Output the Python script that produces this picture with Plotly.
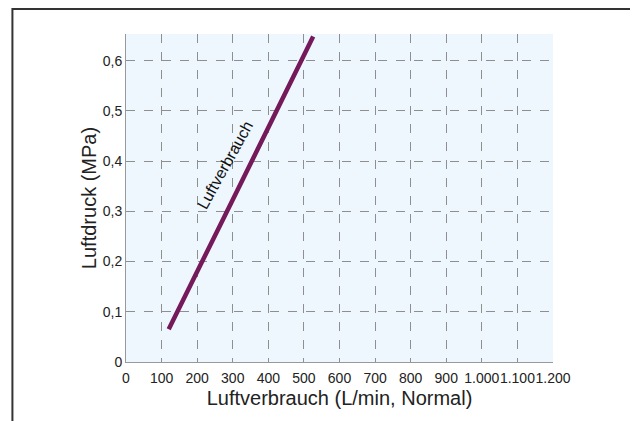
import plotly.graph_objects as go

# Luftverbrauch-Kennlinie
luftverbrauch = [120, 145, 214, 284, 353, 423, 493, 526]
luftdruck = [0.065, 0.1, 0.2, 0.3, 0.4, 0.5, 0.6, 0.648]

x_ticks = [0, 100, 200, 300, 400, 500, 600, 700, 800, 900, 1000, 1100, 1200]
x_ticktext = ["0", "100", "200", "300", "400", "500", "600", "700", "800", "900",
              "1.000", "1.100", "1.200"]
y_ticks = [0, 0.1, 0.2, 0.3, 0.4, 0.5, 0.6]
y_ticktext = ["0", "0,1", "0,2", "0,3", "0,4", "0,5", "0,6"]

fig = go.Figure()

fig.add_trace(go.Scatter(
    x=luftverbrauch,
    y=luftdruck,
    mode="lines",
    line=dict(color="#74195A", width=4.5),
    showlegend=False,
    hoverinfo="skip",
))

# Beschriftung entlang der Linie
fig.add_annotation(
    x=277, y=0.392,
    text="Luftverbrauch",
    showarrow=False,
    textangle=-61,
    font=dict(size=16, color="#111111"),
)

# Rahmen um die ganze Grafik
fig.add_shape(
    type="rect", xref="paper", yref="paper",
    x0=-0.266, x1=1.187, y0=-0.3, y1=1.076,
    line=dict(color="#333333", width=2),
    fillcolor="rgba(0,0,0,0)",
    layer="below",
)

# Seite hat 8px Rand -> Figur entsprechend kleiner
fig.update_layout(
    width=630, height=413,
    margin=dict(l=118, r=85, t=26, b=59),
    paper_bgcolor="white",
    plot_bgcolor="#EEF6FE",
    font=dict(family="Liberation Sans, Arial, sans-serif", color="#222222", size=14),
)

fig.update_xaxes(
    range=[0, 1200],
    tickvals=x_ticks, ticktext=x_ticktext, tickangle=0,
    showgrid=True, gridcolor="#8f8f8f", griddash="dash", gridwidth=1,
    showline=True, linecolor="#999999", linewidth=1,
    zeroline=False, ticks="", automargin=False, ticklabelstandoff=3,
    tickfont=dict(size=14),
    title=dict(text="Luftverbrauch (L/min, Normal)", font=dict(size=20), standoff=6),
)
fig.update_yaxes(
    range=[0, 0.653],
    tickvals=y_ticks, ticktext=y_ticktext,
    showgrid=True, gridcolor="#8f8f8f", griddash="dash", gridwidth=1,
    showline=True, linecolor="#999999", linewidth=1,
    zeroline=False, ticks="", automargin=False,
    tickfont=dict(size=14),
    title=dict(text="Luftdruck (MPa)", font=dict(size=20), standoff=0),
)

fig.write_html("out.html")
